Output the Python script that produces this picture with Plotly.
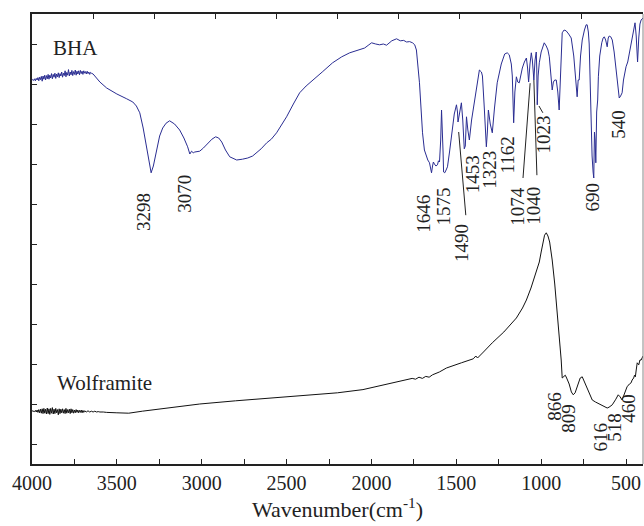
import plotly.graph_objects as go

# ---------------- BHA spectrum (wavenumber, transmittance offset units) ----------------
bha_wn = [4000, 3995, 3990, 3985, 3980, 3975, 3970, 3965, 3960, 3955, 3950, 3945, 3940, 3935,
          3930, 3925, 3920, 3915, 3910, 3905, 3900, 3895, 3890, 3885, 3880, 3875, 3870, 3865,
          3860, 3855, 3850, 3845, 3840, 3835, 3830, 3825, 3820, 3815, 3810, 3805, 3800, 3795,
          3790, 3785, 3780, 3775, 3770, 3765, 3760, 3755, 3750, 3745, 3740, 3735, 3730, 3725,
          3720, 3715, 3710, 3705, 3700, 3695, 3690, 3685, 3680, 3675, 3670, 3665, 3660, 3655,
          3650, 3640, 3630, 3620, 3600, 3560, 3500, 3442, 3406, 3385,
          3365, 3345, 3324, 3308, 3298, 3285, 3266, 3248, 3230, 3210, 3189, 3160, 3130, 3105,
          3083, 3070, 3060, 3050, 3041, 3012, 2990, 2965, 2940, 2918, 2900, 2882, 2860, 2835,
          2794, 2760, 2729, 2700, 2676, 2650, 2617, 2590, 2559, 2530, 2500, 2460, 2423, 2385,
          2347, 2290, 2229, 2175, 2128, 2070, 2040, 2015, 1999, 1975, 1952, 1930, 1911, 1880,
          1852, 1830, 1810, 1793, 1775, 1758, 1745, 1735, 1726, 1717, 1708, 1699, 1688, 1676,
          1668, 1658, 1652, 1646, 1640, 1635, 1629, 1620, 1611, 1605, 1599, 1592, 1587, 1582,
          1578, 1575, 1568, 1560, 1552, 1540, 1528, 1512, 1499, 1493, 1490, 1486, 1478, 1470,
          1462, 1453, 1447, 1440, 1432, 1423, 1410, 1395, 1382, 1364, 1352, 1346, 1335, 1323,
          1317, 1311, 1300, 1288, 1275, 1259, 1235, 1215, 1200, 1188, 1176, 1170, 1162, 1155,
          1146, 1138, 1129, 1120, 1111, 1099, 1087, 1080, 1074, 1066, 1058, 1052, 1043, 1036,
          1029, 1026, 1023, 1018, 1011, 1000, 990, 982, 970, 960, 952, 942, 935, 928, 920, 911,
          902, 894, 888, 882, 876, 865, 853, 838, 823, 808, 800, 794, 788, 782, 776, 768, 758,
          745, 735, 729, 722, 717, 712, 706, 700, 694, 690, 686, 682, 678, 673, 667, 663, 655,
          650, 643, 635, 628, 620, 614, 611, 605, 599, 590, 581, 570, 558, 548, 540, 532, 523,
          515, 505, 500, 490, 480, 470, 458, 447, 440, 436, 432, 425, 418, 411, 400]
bha_t = [9.10, 9.11, 9.09, 9.13, 9.08, 9.14, 9.10, 9.16, 9.08, 9.17, 9.11, 9.19, 9.07, 9.20,
         9.12, 9.22, 9.10, 9.21, 9.13, 9.24, 9.12, 9.22, 9.15, 9.26, 9.13, 9.24, 9.17, 9.27,
         9.14, 9.25, 9.18, 9.28, 9.16, 9.26, 9.20, 9.30, 9.17, 9.27, 9.21, 9.33, 9.18, 9.29,
         9.22, 9.36, 9.20, 9.30, 9.23, 9.34, 9.21, 9.31, 9.24, 9.35, 9.22, 9.32, 9.25, 9.33,
         9.23, 9.34, 9.26, 9.32, 9.24, 9.33, 9.27, 9.31, 9.25, 9.32, 9.26, 9.30, 9.24, 9.29,
         9.27, 9.25, 9.20, 9.15, 9.05, 8.90, 8.75, 8.63, 8.55, 8.45,
         8.28, 7.90, 7.35, 6.95, 6.78, 6.95, 7.35, 7.70, 7.90, 8.02, 8.08, 8.00, 7.85, 7.65,
         7.43, 7.25, 7.32, 7.28, 7.30, 7.32, 7.40, 7.50, 7.62, 7.68, 7.65, 7.55, 7.35, 7.18,
         7.10, 7.12, 7.15, 7.20, 7.28, 7.38, 7.53, 7.62, 7.78, 7.98, 8.18, 8.50, 8.78, 8.95,
         9.10, 9.30, 9.53, 9.68, 9.78, 9.85, 9.90, 9.98, 10.03, 10.00, 9.98, 10.00, 9.97, 10.08,
         10.13, 10.08, 10.09, 10.05, 10.06, 10.03, 9.98, 9.85, 9.50, 9.03, 8.40, 7.78, 7.35, 7.18,
         7.10, 7.03, 6.90, 6.78, 6.95, 7.05, 7.00, 6.95, 6.98, 7.08, 7.05, 7.60, 8.35, 7.90,
         7.30, 6.80, 6.78, 6.85, 6.93, 7.30, 7.78, 8.25, 8.48, 8.30, 8.05, 8.15, 8.40, 8.53,
         8.10, 7.38, 7.45, 8.18, 7.85, 7.60, 8.10, 8.55, 8.85, 9.35, 9.30, 9.20, 8.40, 7.43,
         7.80, 8.35, 8.00, 7.78, 8.40, 9.03, 9.50, 9.75, 9.78, 9.73, 9.50, 9.20, 8.03, 8.80,
         9.18, 9.05, 9.03, 9.25, 9.40, 9.55, 9.65, 9.40, 9.05, 9.50, 9.78, 9.60, 9.10, 9.60,
         9.80, 9.40, 8.48, 9.20, 9.53, 9.80, 9.95, 10.03, 9.95, 9.85, 9.68, 9.20, 8.85, 9.05, 9.10, 9.10,
         8.80, 8.35, 9.20, 9.90, 10.28, 10.35, 10.33, 10.25, 10.15, 9.70, 9.30, 9.03, 8.68, 9.10, 9.10, 9.70, 10.10,
         10.35, 10.48, 10.48, 10.30, 10.00, 9.20, 8.00, 7.20, 6.80, 6.65, 7.80, 7.60, 7.03, 8.30, 8.60, 9.18, 9.70,
         9.90, 10.03, 10.15, 10.18, 10.10, 9.98, 9.93, 10.15, 10.20, 10.18, 10.10, 9.80, 9.28, 8.85, 8.65, 8.70, 8.78,
         9.10, 9.35, 9.43, 9.55, 9.80, 10.03, 10.35, 10.53, 10.20, 9.60, 9.55, 10.15, 10.50, 10.60, 10.65]

# ---------------- Wolframite spectrum ----------------
wolf_wn = [4000, 3995, 3990, 3985, 3980, 3975, 3970, 3965, 3960, 3955, 3950, 3945, 3940, 3935,
           3930, 3925, 3920, 3915, 3910, 3905, 3900, 3895, 3890, 3885, 3880, 3875, 3870, 3865,
           3860, 3855, 3850, 3845, 3840, 3835, 3830, 3825, 3820, 3815, 3810, 3805, 3800, 3795,
           3790, 3785, 3780, 3775, 3770, 3765, 3760, 3755, 3750, 3745, 3740, 3735, 3730, 3725,
           3720, 3715, 3710, 3705, 3700, 3695, 3690, 3680, 3670, 3660, 3650, 3640, 3630, 3620,
           3610, 3600, 3580, 3560, 3500, 3430, 3350, 3200, 3012, 2800,
           2600, 2423, 2200, 2050, 1952, 1850, 1760, 1740, 1720, 1700, 1680, 1660, 1640, 1600,
           1558, 1470, 1400, 1385, 1375, 1340, 1288, 1220, 1146, 1110, 1087, 1060, 1040, 1020,
           1011, 1000, 990, 980, 970, 960, 950, 940, 935, 920, 906, 895, 882, 876, 866, 858, 850,
           835, 822, 811, 800, 788, 770, 758, 745, 729, 715, 699, 680, 658, 640, 625, 611, 600,
           581, 560, 546, 535, 523, 510, 494, 480, 470, 464, 455, 450, 445, 440, 434, 425, 418,
           411, 400]
wolf_t = [0.83, 0.82, 0.83, 0.81, 0.84, 0.80, 0.85, 0.79, 0.86, 0.78, 0.87, 0.77, 0.88, 0.76,
          0.89, 0.77, 0.87, 0.75, 0.90, 0.76, 0.88, 0.74, 0.89, 0.77, 0.91, 0.75, 0.87, 0.76,
          0.89, 0.78, 0.86, 0.73, 0.88, 0.76, 0.87, 0.78, 0.88, 0.77, 0.86, 0.76, 0.89, 0.77,
          0.86, 0.78, 0.87, 0.76, 0.88, 0.78, 0.86, 0.77, 0.85, 0.78, 0.86, 0.79, 0.85, 0.78,
          0.84, 0.79, 0.85, 0.78, 0.84, 0.79, 0.83, 0.80, 0.83, 0.80, 0.82, 0.80, 0.82, 0.80,
          0.81, 0.80, 0.80, 0.79, 0.78, 0.77, 0.82, 0.90, 1.00, 1.08,
          1.15, 1.20, 1.28, 1.36, 1.45, 1.55, 1.64, 1.62, 1.67, 1.64, 1.69, 1.67, 1.73, 1.80,
          1.90, 2.03, 2.13, 2.20, 2.15, 2.30, 2.53, 2.80, 3.15, 3.40, 3.60, 3.90, 4.18, 4.45,
          4.55, 4.80, 5.05, 5.22, 5.28, 5.20, 5.05, 4.75, 4.60, 4.00, 3.35, 2.80, 2.10, 1.65, 1.68, 1.72, 1.65,
          1.50, 1.30, 1.23, 1.28, 1.43, 1.65, 1.68, 1.55, 1.43, 1.25, 1.10, 1.05, 1.00, 0.95, 0.92, 0.90, 0.92,
          0.98, 1.12, 1.23, 1.18, 1.10, 1.25, 1.43, 1.50, 1.53, 1.60, 1.65, 1.72, 1.68, 1.85, 2.03, 1.98, 2.10,
          2.10, 2.20]

# ---------------- Peak labels ----------------
bha_peaks = ["3298", "3070", "1646", "1575", "1490", "1453", "1323", "1162", "1074", "1040", "1023", "690", "540"]
bha_peak_x = [3342, 3106, 1698, 1574, 1465, 1406, 1309, 1197, 1144, 1049, 985, 696, 549]
bha_peak_y = [5.79, 6.25, 5.75, 5.93, 5.03, 6.75, 6.85, 7.23, 5.95, 5.95, 7.73, 6.18, 8.00]

wolf_peaks = ["866", "809", "616", "518", "460"]
wolf_peak_x = [926, 843, 649, 566, 490]
wolf_peak_y = [0.95, 0.65, 0.18, 0.43, 0.90]

# leader lines from labels to their bands: (x0, y0, x1, y1)
leaders = [(1444, 5.72, 1486, 7.80),
           (1107, 6.65, 1065, 9.02),
           (1025, 6.72, 1043, 9.10),
           (990, 8.28, 1013, 8.45)]

serif = "Liberation Serif"
ink = "#222222"

fig = go.Figure()
fig.add_trace(go.Scatter(x=bha_wn, y=bha_t, mode="lines",
                         line=dict(color="#2a2d92", width=1), showlegend=False))
fig.add_trace(go.Scatter(x=wolf_wn, y=wolf_t, mode="lines",
                         line=dict(color="#111111", width=1), showlegend=False))
# invisible trace so the top tick axis is drawn
fig.add_trace(go.Scatter(x=[0, 10], y=[0, 0], xaxis="x2", mode="lines",
                         line=dict(width=0), hoverinfo="skip", showlegend=False))

annotations = []
for txt, x, y in zip(bha_peaks + wolf_peaks, bha_peak_x + wolf_peak_x, bha_peak_y + wolf_peak_y):
    annotations.append(dict(x=x, y=y, xref="x", yref="y", text=txt, showarrow=False,
                            textangle=-90, font=dict(family=serif, size=19, color=ink),
                            xanchor="center", yanchor="middle"))
annotations.append(dict(x=3743, y=9.9, xref="x", yref="y", text="BHA", showarrow=False,
                        font=dict(family=serif, size=21, color=ink)))
annotations.append(dict(x=3570, y=1.52, xref="x", yref="y", text="Wolframite", showarrow=False,
                        font=dict(family=serif, size=21, color=ink)))

shapes = [dict(type="line", xref="x", yref="y", x0=a, y0=b, x1=c, y1=d,
               line=dict(color="#222222", width=1)) for a, b, c, d in leaders]
# thin right frame edge
shapes.append(dict(type="line", xref="paper", yref="paper", x0=1, x1=1, y0=0, y1=1,
                   line=dict(color="#888888", width=1)))

fig.update_layout(
    width=644, height=526,
    margin=dict(l=32, r=1, t=14, b=62),
    paper_bgcolor="white", plot_bgcolor="white",
    font=dict(family=serif, color=ink),
    annotations=annotations, shapes=shapes,
    xaxis=dict(range=[4000, 400], tick0=0, dtick=500, ticks="inside", ticklen=5,
               tickwidth=1.2, tickcolor="#222", showline=True, linecolor="#222",
               linewidth=1.5, mirror=True, showgrid=False, zeroline=False,
               tickfont=dict(family=serif, size=20, color=ink),
               minor=dict(dtick=250, ticks="inside", ticklen=5, tickcolor="#222"),
               title=dict(text="Wavenumber(cm<sup>-1</sup>)", standoff=6,
                          font=dict(family=serif, size=22, color=ink))),
    xaxis2=dict(range=[0, 10], overlaying="x", side="top", anchor="y", dtick=1,
                ticks="inside", ticklen=5, tickcolor="#222", showticklabels=False,
                showgrid=False, zeroline=False, showline=False),
    yaxis=dict(range=[-0.5, 10.75], dtick=1, tick0=0, ticks="inside", ticklen=5,
               tickcolor="#222", showticklabels=False, showline=True, linecolor="#222",
               linewidth=1.5, showgrid=False, zeroline=False),
)

fig.write_html("out.html")
